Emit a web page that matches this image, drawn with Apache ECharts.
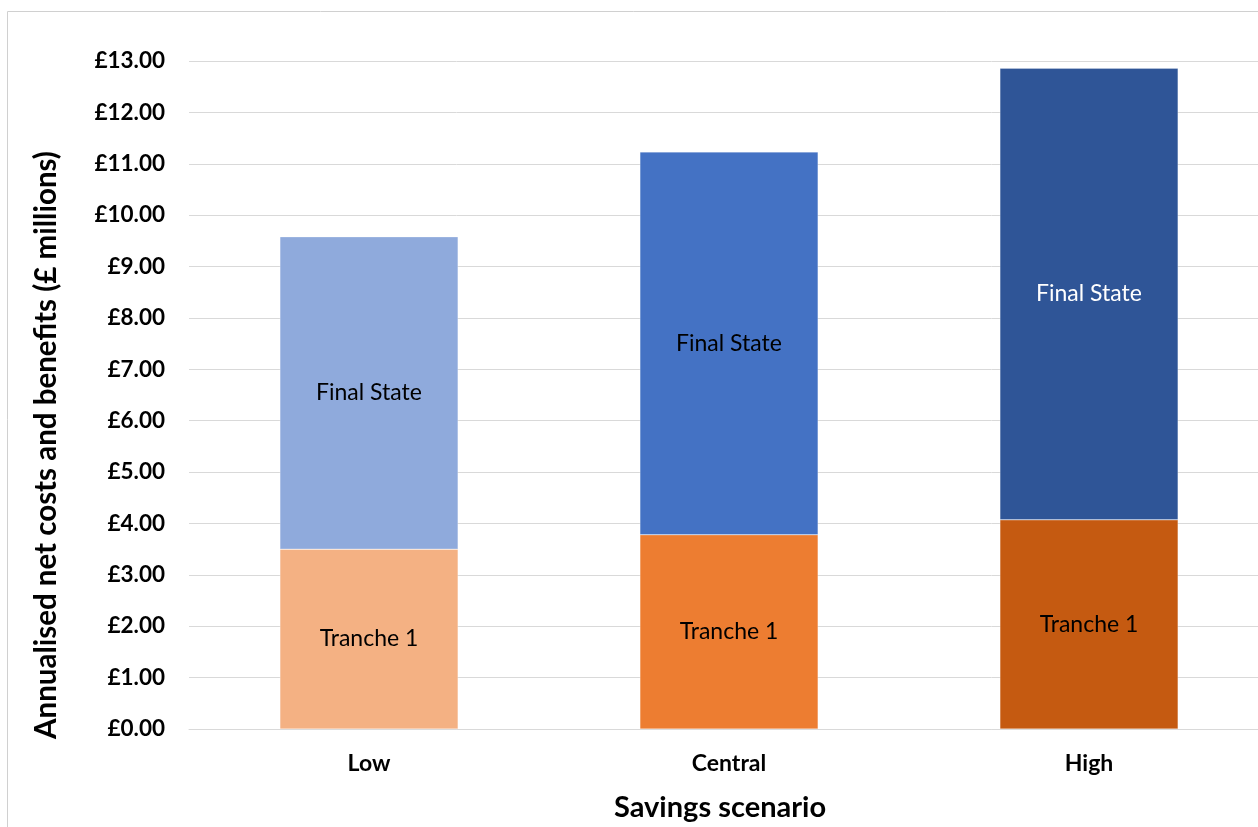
<!DOCTYPE html>
<html>
<head>
<meta charset="utf-8">
<script src="https://cdn.jsdelivr.net/npm/echarts@6/dist/echarts.min.js"></script>
<style>
html,body{margin:0;padding:0;background:#fff;}
#main{width:1258px;height:827px;}
</style>
</head>
<body>
<div id="main"></div>
<script>
var categories = ['Low', 'Central', 'High'];
var tranche1 = [3.50, 3.78, 4.07];
var finalState = [6.08, 7.45, 8.79];
var trancheColors = ['#F4B183', '#ED7D31', '#C55A11'];
var finalColors = ['#8FAADC', '#4472C4', '#2F5597'];
var finalLabelColors = ['#000000', '#000000', '#ffffff'];

var FONT = 'Lato';
var chart = echarts.init(document.getElementById('main'));

function makeData(vals, colors, labelColors) {
  return vals.map(function (v, i) {
    return {
      value: v,
      itemStyle: { color: colors[i] },
      label: { color: labelColors ? labelColors[i] : '#000000' }
    };
  });
}

chart.setOption({
  animation: false,
  graphic: [{
    type: 'rect',
    shape: { x: 7.5, y: 11.5, width: 1400, height: 1000 },
    style: { fill: 'none', stroke: '#d0d0d0', lineWidth: 1 },
    silent: true
  }],
  grid: { left: 189, width: 1080, top: 61, bottom: 98, containLabel: false, outerBoundsMode: 'none' },
  xAxis: {
    type: 'category',
    data: categories,
    axisLine: { lineStyle: { color: '#d9d9d9' } },
    axisTick: { show: false },
    axisLabel: { fontFamily: FONT, fontWeight: 'bold', fontSize: 23, color: '#000', margin: 23 },
    name: 'Savings scenario',
    nameLocation: 'middle',
    nameGap: 64,
    nameTextStyle: { fontFamily: FONT, fontWeight: 'bold', fontSize: 29, color: '#000', padding: [0, 18, 0, 0] }
  },
  yAxis: {
    type: 'value',
    min: 0,
    max: 13,
    interval: 1,
    axisLine: { show: false },
    axisTick: { show: false },
    splitLine: { lineStyle: { color: '#d9d9d9', width: 1 } },
    axisLabel: {
      fontFamily: FONT, fontWeight: 'bold', fontSize: 22.5, color: '#000', margin: 24,
      formatter: function (v) { return '£' + v.toFixed(2); }
    },
    name: 'Annualised net costs and benefits (£ millions)',
    nameLocation: 'middle',
    nameGap: 128,
    nameTextStyle: { fontFamily: FONT, fontWeight: 'bold', fontSize: 29.5, color: '#000', padding: [0, 100, 0, 0] }
  },
  series: [{
    name: 'Tranche 1',
    type: 'bar',
    stack: 'total',
    barWidth: '49.5%',
    itemStyle: { borderColor: 'rgba(255,255,255,0.5)', borderWidth: 0.5 },
    label: { show: true, position: 'inside', formatter: 'Tranche 1', fontFamily: FONT, fontSize: 23 },
    data: makeData(tranche1, trancheColors)
  }, {
    name: 'Final State',
    type: 'bar',
    stack: 'total',
    barWidth: '49.5%',
    itemStyle: { borderColor: 'rgba(255,255,255,0.5)', borderWidth: 0.5 },
    label: { show: true, position: 'inside', formatter: 'Final State', fontFamily: FONT, fontSize: 23 },
    data: makeData(finalState, finalColors, finalLabelColors)
  }]
});
</script>
</body>
</html>
